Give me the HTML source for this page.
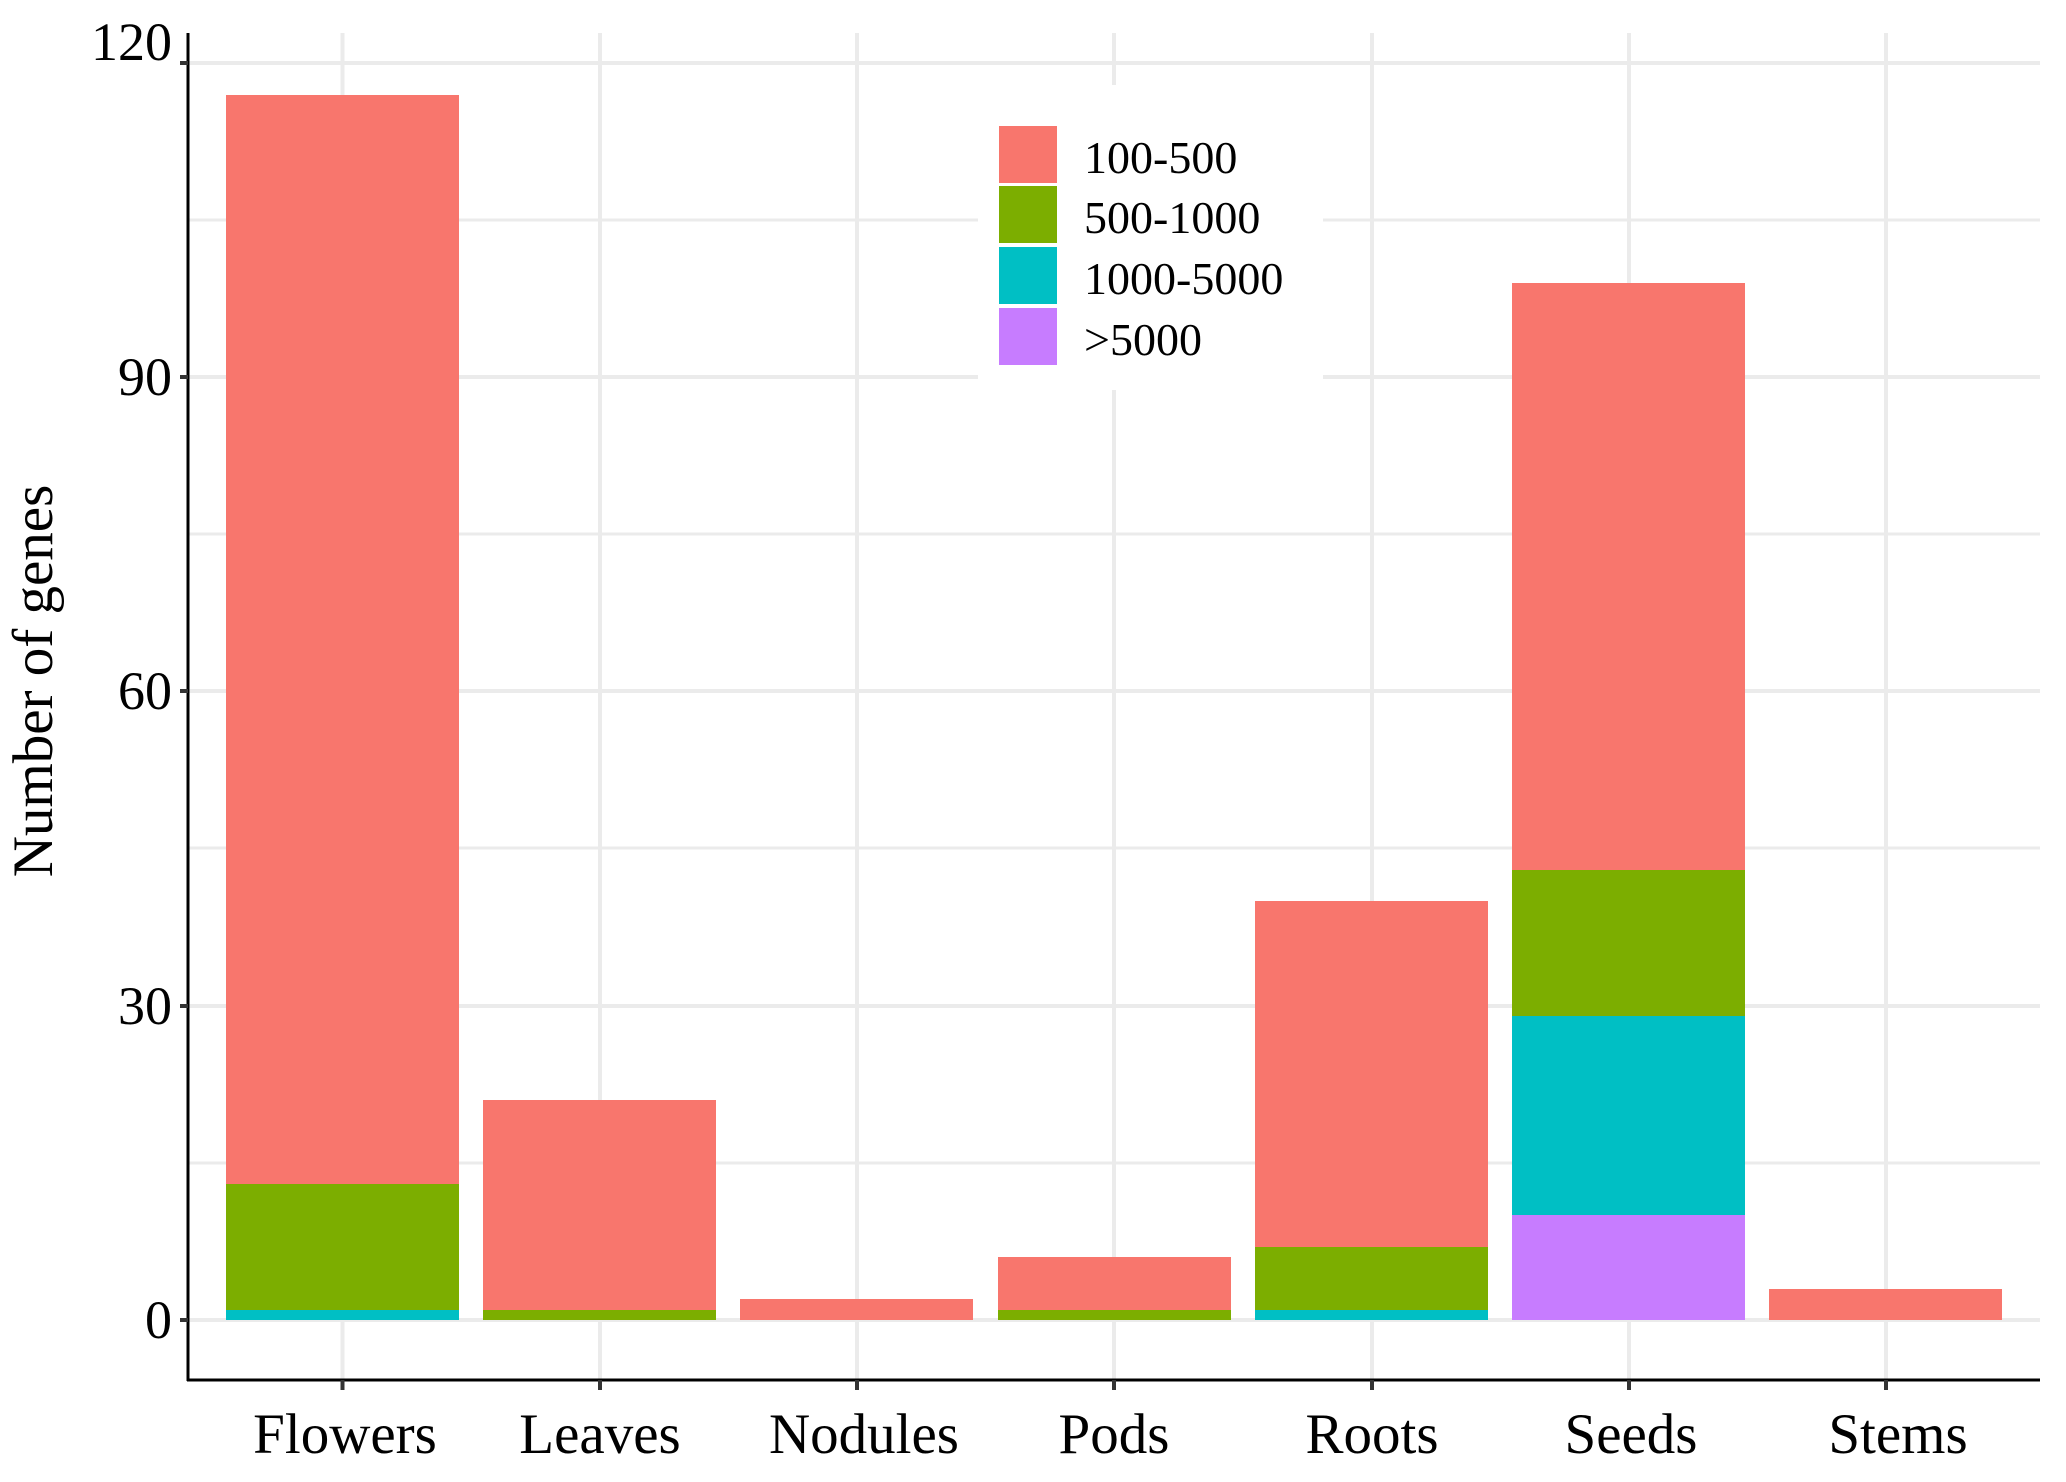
<!DOCTYPE html>
<html><head><meta charset="utf-8"><style>
body{margin:0;background:#fff;}
svg text{font-family:"Liberation Serif",serif;fill:#000;}
</style></head><body>
<svg width="2066" height="1477" viewBox="0 0 2066 1477" xmlns="http://www.w3.org/2000/svg">
<rect width="2066" height="1477" fill="#fff"/>
<g stroke="#ebebeb" stroke-width="3">
<line x1="188" x2="2040" y1="1163" y2="1163"/>
<line x1="188" x2="2040" y1="848" y2="848"/>
<line x1="188" x2="2040" y1="534" y2="534"/>
<line x1="188" x2="2040" y1="220" y2="220"/>
</g>
<g stroke="#ebebeb" stroke-width="4">
<line x1="188" x2="2040" y1="1320" y2="1320"/>
<line x1="188" x2="2040" y1="1006" y2="1006"/>
<line x1="188" x2="2040" y1="691" y2="691"/>
<line x1="188" x2="2040" y1="377" y2="377"/>
<line x1="188" x2="2040" y1="63" y2="63"/>
<line x1="342.5" x2="342.5" y1="33" y2="1380"/>
<line x1="600" x2="600" y1="33" y2="1380"/>
<line x1="857" x2="857" y1="33" y2="1380"/>
<line x1="1114" x2="1114" y1="33" y2="1380"/>
<line x1="1372" x2="1372" y1="33" y2="1380"/>
<line x1="1629" x2="1629" y1="33" y2="1380"/>
<line x1="1886" x2="1886" y1="33" y2="1380"/>
</g>
<g>
<rect x="226" y="95" width="233" height="1094" fill="#f8766d"/>
<rect x="226" y="1184" width="233" height="126" fill="#7cae00"/>
<rect x="226" y="1310" width="233" height="10" fill="#00bfc4"/>

<rect x="483" y="1100" width="233" height="210" fill="#f8766d"/>
<rect x="483" y="1310" width="233" height="10" fill="#7cae00"/>

<rect x="740" y="1299" width="233" height="21" fill="#f8766d"/>

<rect x="998" y="1257" width="233" height="53" fill="#f8766d"/>
<rect x="998" y="1310" width="233" height="10" fill="#7cae00"/>

<rect x="1255" y="901" width="233" height="347" fill="#f8766d"/>
<rect x="1255" y="1247" width="233" height="63" fill="#7cae00"/>
<rect x="1255" y="1310" width="233" height="10" fill="#00bfc4"/>

<rect x="1512" y="283" width="233" height="588" fill="#f8766d"/>
<rect x="1512" y="870" width="233" height="147" fill="#7cae00"/>
<rect x="1512" y="1016" width="233" height="200" fill="#00bfc4"/>
<rect x="1512" y="1215" width="233" height="105" fill="#c77cff"/>

<rect x="1769" y="1289" width="233" height="31" fill="#f8766d"/>
</g>
<rect x="978" y="85" width="345" height="305" fill="#fff"/>
<rect x="999" y="126" width="58" height="57" fill="#f8766d"/>
<rect x="999" y="186" width="58" height="57" fill="#7cae00"/>
<rect x="999" y="247" width="58" height="57" fill="#00bfc4"/>
<rect x="999" y="308" width="58" height="57" fill="#c77cff"/>
<g font-size="46">
<text x="1084" y="173">100-500</text>
<text x="1084" y="233">500-1000</text>
<text x="1084" y="294">1000-5000</text>
<text x="1084" y="355">&gt;5000</text>
</g>
<line x1="188" x2="188" y1="33" y2="1381" stroke="#000" stroke-width="3"/>
<line x1="187" x2="2040" y1="1380" y2="1380" stroke="#000" stroke-width="3"/>
<g stroke="#333" stroke-width="4">
<line x1="180" x2="188" y1="1320" y2="1320"/>
<line x1="180" x2="188" y1="1006" y2="1006"/>
<line x1="180" x2="188" y1="691" y2="691"/>
<line x1="180" x2="188" y1="377" y2="377"/>
<line x1="180" x2="188" y1="63" y2="63"/>
<line x1="342.5" x2="342.5" y1="1380" y2="1390"/>
<line x1="600" x2="600" y1="1380" y2="1390"/>
<line x1="857" x2="857" y1="1380" y2="1390"/>
<line x1="1114" x2="1114" y1="1380" y2="1390"/>
<line x1="1372" x2="1372" y1="1380" y2="1390"/>
<line x1="1629" x2="1629" y1="1380" y2="1390"/>
<line x1="1886" x2="1886" y1="1380" y2="1390"/>
</g>
<g font-size="54" text-anchor="end">
<text x="172" y="1338">0</text>
<text x="172" y="1024">30</text>
<text x="172" y="709">60</text>
<text x="172" y="395">90</text>
<text x="172" y="60">120</text>
</g>
<g font-size="57" text-anchor="middle">
<text x="345" y="1453">Flowers</text>
<text x="600" y="1453">Leaves</text>
<text x="864" y="1453">Nodules</text>
<text x="1114" y="1453">Pods</text>
<text x="1372" y="1453">Roots</text>
<text x="1631" y="1453">Seeds</text>
<text x="1898" y="1453">Stems</text>
</g>
<text font-size="57" text-anchor="middle" transform="translate(52,681) rotate(-90)">Number of genes</text>
</svg>
</body></html>
